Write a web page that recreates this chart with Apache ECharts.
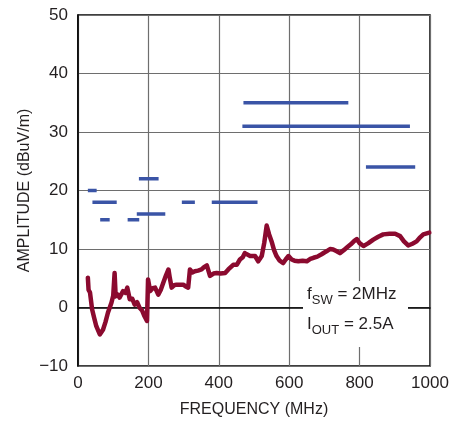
<!DOCTYPE html>
<html><head><meta charset="utf-8">
<script src="https://cdn.jsdelivr.net/npm/echarts@6/dist/echarts.min.js"></script>
<style>html,body{margin:0;padding:0;background:#fff}#c{width:465px;height:423px}</style>
</head><body><div id="c"></div>
<script>
// Measured emission spectrum
const freqMHz = [28,30,34,40,46,52,62,71,78,85,95,100,104,107,113,118,128,135,140,147,154,161,168,175,182,189,196,199,205,212,219,228,235,242,250,257,261,266,273,280,290,299,306,313,318,325,332,341,351,358,366,375,385,394,405,418,427,441,451,460,468,474,489,503,512,522,529,536,543,550,557,564,573,583,590,598,607,615,626,638,650,660,669,680,692,700,706,716,725,735,744,755,763,775,785,792,800,811,825,839,853,867,885,901,915,926,938,950,962,972,981,998];
const amplitude = [5.1,3.0,2.6,-0.3,-1.8,-3.2,-4.6,-3.8,-2.5,-0.9,0.8,2.0,5.9,1.9,2.2,1.7,2.8,2.5,3.4,1.4,1.5,0.5,0.9,-0.05,-0.5,-1.5,-2.3,4.8,2.8,3.3,3.4,2.2,3.0,4.2,5.5,6.5,5.0,3.4,3.8,3.9,3.9,3.9,3.6,3.4,6.5,6.0,6.2,6.3,6.5,6.9,7.2,5.4,5.8,5.9,5.8,5.9,6.5,7.3,7.3,8.2,8.6,9.3,8.8,8.8,7.9,8.8,11.0,14.0,12.5,11.3,9.8,8.8,8.0,7.6,8.2,8.8,8.2,8.0,7.9,8.0,7.9,8.3,8.5,8.7,9.1,9.4,9.6,10.0,9.9,9.6,9.3,9.8,10.2,10.8,11.4,11.7,11.0,10.5,11.0,11.6,12.1,12.5,12.6,12.6,12.2,11.3,10.6,10.9,11.3,12.0,12.5,12.8];
// Limit segments
const limStart = [28,41,63,141,173,167,295,380,470,467,818];
const limEnd   = [53,110,90,174,229,248,332,510,768,943,958];
const limLevel = [20,18,15,15,22,16,18,18,35,31,24];
const xTicks = [0,200,400,600,800,1000];
const yTicks = [-10,0,10,20,30,40,50];

const FONT = '"Liberation Sans Narrow","Liberation Sans",Arial,sans-serif';
const TXT = '#231f20';

const limData = [];
for (let i = 0; i < limStart.length; i++) {
  limData.push([limStart[i], limLevel[i]], [limEnd[i], limLevel[i]], null);
}
const curve = freqMHz.map((f, i) => [f, amplitude[i]]);

const chart = echarts.init(document.getElementById('c'));
chart.setOption({
  animation: false,
  grid: { left: 78, right: 35, top: 15, bottom: 57, show: true, borderColor: '#000', borderWidth: 1.5, backgroundColor: 'transparent' },
  xAxis: {
    type: 'value', min: xTicks[0], max: xTicks[xTicks.length - 1], interval: 200,
    name: 'FREQUENCY (MHz)', nameLocation: 'middle', nameGap: 36, nameMoveOverlap: false,
    nameTextStyle: { fontFamily: FONT, fontSize: 16, color: TXT },
    axisLine: { show: true, lineStyle: { color: '#000', width: 1.5 } },
    axisTick: { show: false },
    axisLabel: { fontFamily: FONT, fontSize: 17, color: TXT, margin: 9, formatter: v => String(v) },
    splitLine: { show: true, lineStyle: { color: '#6e6e6e', width: 1.2 } }
  },
  yAxis: {
    type: 'value', min: yTicks[0], max: yTicks[yTicks.length - 1], interval: 10,
    name: 'AMPLITUDE (dBuV/m)', nameLocation: 'middle', nameGap: 45, nameRotate: 90, nameMoveOverlap: false,
    nameTextStyle: { fontFamily: FONT, fontSize: 16, color: TXT },
    axisLine: { show: true, lineStyle: { color: '#000', width: 1.5 } },
    axisTick: { show: false },
    axisLabel: { fontFamily: FONT, fontSize: 17, color: TXT, margin: 10,
      formatter: v => String(v).replace('-', '\u2212') },
    splitLine: { show: true, lineStyle: { color: '#6e6e6e', width: 1.2 } }
  },
  series: [
    { type: 'line', data: limData, connectNulls: false, showSymbol: false, symbol: 'none',
      lineStyle: { color: '#3a54a6', width: 3.5, cap: 'butt' }, z: 3 },
    { type: 'line', data: curve, showSymbol: false, symbol: 'none',
      lineStyle: { color: '#8b0a2f', width: 4.5, join: 'round', cap: 'round' }, z: 4 }
  ],
  graphic: [
    { type: 'rect', left: 303, top: 281, z: 100, shape: { width: 105, height: 66 }, style: { fill: '#fff' } },
    { type: 'text', left: 307, top: 286, z: 101, style: {
        text: '{a|f}{b|SW}{a| = 2MHz}',
        rich: { a: { fontFamily: FONT, fontSize: 17, lineHeight: 24, verticalAlign: 'middle', fill: TXT },
                b: { fontFamily: FONT, fontSize: 13, lineHeight: 24, verticalAlign: 'bottom', fill: TXT } } } },
    { type: 'text', left: 307, top: 316, z: 101, style: {
        text: '{a|I}{b|OUT}{a| = 2.5A}',
        rich: { a: { fontFamily: FONT, fontSize: 17, lineHeight: 24, verticalAlign: 'middle', fill: TXT },
                b: { fontFamily: FONT, fontSize: 13, lineHeight: 24, verticalAlign: 'bottom', fill: TXT } } } }
  ]
});
</script>
</body></html>
